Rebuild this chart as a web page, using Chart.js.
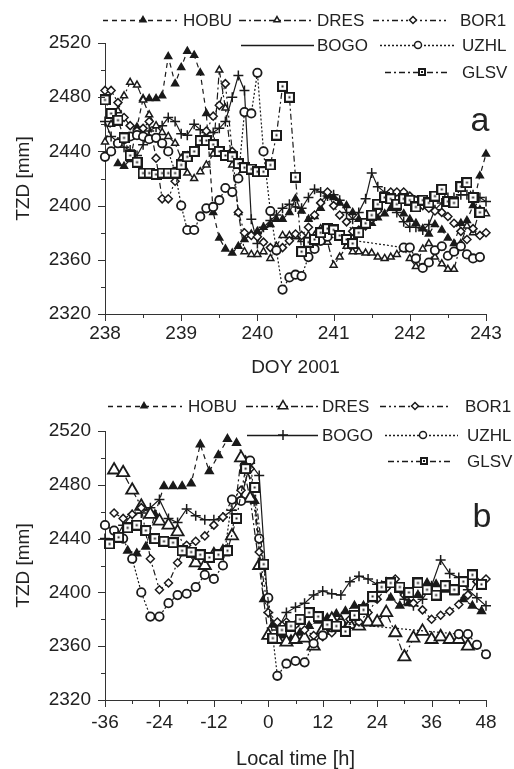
<!DOCTYPE html>
<html>
<head>
<meta charset="utf-8">
<script src="https://cdn.jsdelivr.net/npm/chart.js@4.4.1/dist/chart.umd.min.js"></script>
<style>
    html, body { margin: 0; padding: 0; background: #fff; }
    canvas { display: block; }
</style>
</head>
<body>
<canvas id="chart-a" width="514" height="384"></canvas>
<canvas id="chart-b" width="514" height="385"></canvas>
<script>
// ---- data ----
const doyTicks = [238, 239, 240, 241, 242, 243];
const doyMinorTicks = [238.5, 239.5, 240.5, 241.5, 242.5];
const hourTicks = [-36, -24, -12, 0, 12, 24, 36, 48];
const hourMinorTicks = [-30, -18, -6, 6, 18, 30, 42];
const tzdTicks = [2320, 2360, 2400, 2440, 2480, 2520];
const tzdMinorTicks = [2340, 2380, 2420, 2460, 2500];

// panel a: 2-hourly samples on DOY 238..243
const doyGrid = [238.00, 238.08, 238.17, 238.25, 238.33, 238.42, 238.50, 238.58, 238.67, 238.75,
    238.83, 238.92, 239.00, 239.08, 239.17, 239.25, 239.33, 239.42, 239.50, 239.58,
    239.67, 239.75, 239.83, 239.92, 240.00, 240.08, 240.17, 240.25, 240.33, 240.42,
    240.50, 240.58, 240.67, 240.75, 240.83, 240.92, 241.00, 241.08, 241.17, 241.25,
    241.33, 241.42, 241.50, 241.58, 241.67, 241.75, 241.83, 241.92, 242.00, 242.08,
    242.17, 242.25, 242.33, 242.42, 242.50, 242.58, 242.67, 242.75, 242.83, 242.92, 243.00];

const hobuA = [null, null, 2431, 2429, 2434, 2458, 2479, 2479, 2479, 2481,
    2510, 2490, 2502, 2514, 2511, 2498, 2468, 2395, 2376, 2368,
    2365, 2370, 2375, 2379, 2381, 2384, 2386, 2390, 2390, 2395,
    2405, 2396, 2390, 2392, 2398, 2407, 2406, 2402, 2400, 2395,
    2390, 2386, 2387, 2391, 2394, 2398, 2398, 2394, 2390, 2387,
    2383, 2379, 2386, 2382, 2376, 2372, 2387, 2389, 2400, 2422, 2438];
const dresA = [2447, 2460, 2470, 2481, 2491, 2489, 2478, 2467, 2459, 2454,
    2451, 2446, 2435, 2424, 2420, 2425, 2430, 2438, 2500, 2472,
    2430, 2395, 2366, 2364, 2364, 2366, 2361, 2370, 2378, 2378,
    2377, 2375, 2378, 2378, 2383, 2373, 2356, 2362, 2370, 2366,
    2366, 2365, 2365, 2362, 2361, 2362, 2364, 2368, 2361, 2355,
    2368, 2372, 2362, 2357, 2353, 2353, 2372, 2385, 2380, 2397, 2394];
const bor1A = [2485, 2485, 2476, 2465, 2459, 2455, 2457, 2462, 2435, 2405,
    2405, 2418, 2430, 2437, 2440, 2448, 2455, 2466, 2474, 2490,
    2440, 2395, 2380, 2378, 2377, 2373, 2369, 2367, 2369, 2374,
    2379, 2378, 2384, 2393, 2402, 2410, 2400, 2393, 2388, 2381,
    2382, 2385, 2390, 2396, 2406, 2410, 2410, 2410, 2407, 2404,
    2400, 2398, 2396, 2395, 2392, 2387, 2381, 2375, 2383, 2378, 2380];
const bogoA = [2462, 2451, 2447, 2443, 2441, 2437, 2445, 2455, 2458, 2459,
    2465, 2462, 2453, 2452, 2460, 2456, 2454, 2454, 2457, 2462,
    2480, 2496, 2485, 2390, 2372, 2384, 2389, 2393, 2398, 2401,
    2399, 2398, 2406, 2412, 2410, 2407, 2408, 2404, 2395, 2390,
    2395, 2405, 2424, 2414, 2410, 2402, 2395, 2388, 2384, 2384,
    2382, 2386, 2397, 2402, 2406, 2406, 2408, 2408, 2408, 2406, 2403];
const uzhlA = [2436, 2440, 2446, 2449, 2451, 2452, 2451, 2449, 2450, 2446,
    2440, 2425, 2400, 2382, 2382, 2392, 2398, 2399, 2404, 2413,
    2410, 2420, 2469, 2468, 2498, 2440, 2396, 2367, 2338, 2347,
    2349, 2348, 2362, 2368, 2374, 2377, null, null, null, null,
    null, null, null, null, null, null, null, 2369, 2369, 2361,
    2354, 2358, 2367, 2370, 2363, 2366, 2370, 2364, 2361, 2362, null];
const glsvA = [2478, 2468, 2463, 2450, 2437, 2432, 2424, 2424, 2423, 2424,
    2424, 2424, 2430, 2436, 2440, 2448, 2448, 2445, 2440, 2437,
    2436, 2431, 2428, 2427, 2425, 2425, 2430, 2452, 2488, 2480,
    2421, 2366, 2373, 2375, 2380, 2383, 2382, 2378, 2375, 2372,
    2380, 2387, 2393, 2401, 2406, 2405, 2401, 2405, 2404, 2399,
    2404, 2402, 2407, 2412, 2403, 2402, 2414, 2417, 2406, 2395, null];

// panel b: [local time h, TZD mm]
const hobuB = [[-31, 2431], [-29, 2429], [-27, 2434], [-25, 2458], [-23, 2479], [-21, 2479], [-19, 2479],
    [-17, 2481], [-15, 2510], [-13, 2490], [-11, 2502], [-9, 2514], [-7, 2511], [-5, 2498], [-3, 2468],
    [-1, 2395], [1, 2376], [3, 2368], [5, 2365], [7, 2370], [9, 2375], [11, 2379], [13, 2381], [15, 2384],
    [17, 2386], [19, 2390], [21, 2390], [23, 2395], [25, 2405], [27, 2396], [29, 2390], [31, 2392],
    [33, 2398], [35, 2407], [37, 2406], [39, 2402], [41, 2400], [43, 2395], [45, 2390], [47, 2386]];
const dresB = [[-34, 2491], [-32, 2489], [-30, 2476], [-28, 2464], [-26, 2458], [-24, 2453], [-22, 2450],
    [-20, 2445], [-18, 2430], [-16, 2422], [-14, 2420], [-12, 2428], [-10, 2430], [-8, 2442], [-6, 2500],
    [-4, 2470], [-2, 2420], [0, 2368], [2, 2365], [4, 2363], [6, 2365], [8, 2366], [10, 2360], [12, 2372],
    [14, 2380], [16, 2378], [18, 2376], [20, 2375], [22, 2378], [24, 2378], [26, 2385], [28, 2370],
    [30, 2352], [32, 2366], [34, 2371], [36, 2365], [38, 2367], [40, 2365], [42, 2365], [44, 2360]];
const bor1B = [[-34, 2459], [-32, 2455], [-30, 2458], [-28, 2463], [-26, 2425], [-24, 2402], [-22, 2407],
    [-20, 2422], [-18, 2435], [-16, 2438], [-14, 2442], [-12, 2450], [-10, 2456], [-8, 2469], [-6, 2476],
    [-4, 2492], [-2, 2430], [0, 2385], [2, 2378], [4, 2378], [6, 2376], [8, 2372], [10, 2368], [12, 2367],
    [14, 2370], [16, 2375], [18, 2380], [20, 2378], [22, 2385], [24, 2395], [26, 2403], [28, 2410],
    [30, 2398], [32, 2392], [34, 2387], [36, 2380], [38, 2383], [40, 2386], [42, 2391], [44, 2398],
    [46, 2408], [48, 2410]];
const bogoB = [[-36, 2440], [-34, 2438], [-32, 2450], [-30, 2458], [-28, 2459], [-26, 2463], [-24, 2469],
    [-22, 2455], [-20, 2452], [-18, 2462], [-16, 2457], [-14, 2454], [-12, 2454], [-10, 2456], [-8, 2461],
    [-6, 2470], [-4, 2496], [-2, 2487], [0, 2385], [2, 2372], [4, 2385], [6, 2389], [8, 2392], [10, 2398],
    [12, 2401], [14, 2399], [16, 2398], [18, 2408], [20, 2412], [22, 2410], [24, 2406], [26, 2408],
    [28, 2404], [30, 2395], [32, 2390], [34, 2395], [36, 2405], [38, 2424], [40, 2414], [42, 2411],
    [44, 2402], [46, 2396], [48, 2390]];
const uzhlB = [[-36, 2450], [-34, 2446], [-32, 2440], [-30, 2425], [-28, 2400], [-26, 2382], [-24, 2382],
    [-22, 2392], [-20, 2398], [-18, 2399], [-16, 2404], [-14, 2413], [-12, 2410], [-10, 2420], [-8, 2469],
    [-6, 2468], [-4, 2498], [-2, 2440], [0, 2396], [2, 2338], [4, 2347], [6, 2349], [8, 2348], [10, 2362],
    [12, 2368], [14, 2374], [16, 2377], [42, 2369], [44, 2369], [46, 2361], [48, 2354]];
const glsvB = [[-35, 2436], [-33, 2441], [-31, 2448], [-29, 2450], [-27, 2446], [-25, 2440], [-23, 2438],
    [-21, 2437], [-19, 2431], [-17, 2430], [-15, 2428], [-13, 2426], [-11, 2428], [-9, 2431], [-7, 2455],
    [-5, 2492], [-3, 2478], [-1, 2421], [1, 2366], [3, 2372], [5, 2375], [7, 2380], [9, 2385], [11, 2382],
    [13, 2376], [15, 2375], [17, 2371], [19, 2383], [21, 2387], [23, 2397], [25, 2404], [27, 2407],
    [29, 2404], [31, 2400], [33, 2407], [35, 2402], [37, 2398], [39, 2405], [41, 2402], [43, 2408],
    [45, 2413], [47, 2406]];

// ---- styling ----
const INK = '#1a1a1a';
const FONT = "'Liberation Sans', Arial, sans-serif";
Chart.defaults.font.family = FONT;
Chart.defaults.color = '#222';

// small canvas marker: box with a dot in the middle
function boxMarker(size, lw) {
    const c = document.createElement('canvas');
    c.width = c.height = size;
    const g = c.getContext('2d');
    g.lineWidth = lw;
    g.strokeStyle = INK;
    g.fillStyle = '#fff';
    g.fillRect(0, 0, size, size);
    g.strokeRect(lw / 2, lw / 2, size - lw, size - lw);
    g.fillStyle = INK;
    g.fillRect(size / 2 - 1, size / 2 - 1, 2, 2);
    return c;
}

const stationStyle = {
    HOBU: { dash: [5, 4], point: 'triangle', fill: INK, r: { a: 4, b: 4.5, leg: 3.5 } },
    DRES: { dash: [7, 3, 2, 3], point: 'triangle', fill: '#fff', r: { a: 4, b: 7, leg: 4 } },
    BOR1: { dash: [6, 3, 2, 3, 2, 3], point: 'rectRot', fill: '#fff', r: { a: 4, b: 4, leg: 3.5 } },
    BOGO: { dash: [], point: 'cross', fill: INK, r: { a: 5, b: 5, leg: 5 } },
    UZHL: { dash: [2, 2], point: 'circle', fill: '#fff', r: { a: 4.2, b: 4.2, leg: 3.5 } },
    GLSV: { dash: [6, 3, 2, 3], point: boxMarker(11, 2), legPoint: boxMarker(8, 2), fill: '#fff', r: { a: 5, b: 5, leg: 4 } }
};

function gridPoints(values) {
    return doyGrid.map((d, i) => ({ x: d, y: values[i] })).filter(p => p.y !== null);
}
function pairPoints(pairs) {
    return pairs.map(p => ({ x: p[0], y: p[1] }));
}

function makeDataset(name, points, panel) {
    const st = stationStyle[name];
    return {
        label: name,
        data: points,
        borderColor: INK,
        borderWidth: 1.2,
        borderDash: st.dash,
        pointStyle: st.point,
        pointRadius: st.r[panel],
        pointBorderWidth: (panel === 'b' && name === 'DRES') || name === 'UZHL' ? 1.8 : 1.5,
        pointBackgroundColor: st.fill,
        pointBorderColor: INK,
        tension: 0,
        spanGaps: true,
        clip: false
    };
}

// tick marks drawn on the library scales (major + minor)
const TickMarks = {
    id: 'tickMarks',
    afterDraw(chart, _args, opts) {
        const { ctx, chartArea } = chart;
        const xs = chart.scales.x;
        const ys = chart.scales.y;
        ctx.save();
        ctx.strokeStyle = '#333';
        ctx.lineWidth = 1;
        ctx.beginPath();
        opts.xMajor.forEach(v => {
            const px = Math.round(xs.getPixelForValue(v)) + 0.5;
            ctx.moveTo(px, chartArea.bottom);
            ctx.lineTo(px, chartArea.bottom + 7);
        });
        opts.xMinor.forEach(v => {
            const px = Math.round(xs.getPixelForValue(v)) + 0.5;
            ctx.moveTo(px, chartArea.bottom);
            ctx.lineTo(px, chartArea.bottom + 4);
        });
        opts.yMajor.forEach(v => {
            const py = Math.round(ys.getPixelForValue(v)) + 0.5;
            ctx.moveTo(chartArea.left, py);
            ctx.lineTo(chartArea.left - 7, py);
        });
        opts.yMinor.forEach(v => {
            const py = Math.round(ys.getPixelForValue(v)) + 0.5;
            ctx.moveTo(chartArea.left, py);
            ctx.lineTo(chartArea.left - 4, py);
        });
        ctx.stroke();
        ctx.restore();
    }
};

// legend laid out like the original (three columns, staggered rows)
const LineLegend = {
    id: 'lineLegend',
    afterDraw(chart, _args, opts) {
        const ctx = chart.ctx;
        ctx.save();
        opts.items.forEach(item => {
            const st = stationStyle[item.name];
            ctx.strokeStyle = INK;
            ctx.lineWidth = 1.3;
            ctx.setLineDash(st.dash);
            ctx.beginPath();
            ctx.moveTo(item.x0, item.y + 0.5);
            ctx.lineTo(item.x1, item.y + 0.5);
            ctx.stroke();
            ctx.setLineDash([]);
            if (item.marker) {
                ctx.fillStyle = st.fill;
                ctx.strokeStyle = INK;
                ctx.lineWidth = 1.5;
                Chart.helpers.drawPoint(ctx, {
                    pointStyle: st.legPoint || st.point,
                    radius: item.r || st.r.leg,
                    borderWidth: 1.5,
                    rotation: 0
                }, item.mx, item.y);
            }
            ctx.fillStyle = '#222';
            ctx.font = '17px ' + FONT;
            ctx.textBaseline = 'middle';
            ctx.textAlign = 'left';
            ctx.fillText(item.name, item.tx, item.y + 1);
        });
        ctx.font = '34px ' + FONT;
        ctx.fillStyle = '#222';
        ctx.textAlign = 'center';
        ctx.textBaseline = 'alphabetic';
        ctx.fillText(opts.letter.text, opts.letter.x, opts.letter.y);
        ctx.restore();
    }
};

function buildChart(canvasId, cfg) {
    const labelFont = { size: 19 };
    return new Chart(document.getElementById(canvasId), {
        type: 'line',
        data: { datasets: cfg.datasets },
        options: {
            responsive: false,
            animation: false,
            devicePixelRatio: 1,
            layout: { padding: { top: cfg.padTop, right: 28, left: 0, bottom: 0 } },
            plugins: {
                legend: { display: false },
                tooltip: { enabled: false },
                tickMarks: cfg.ticks,
                lineLegend: cfg.legend
            },
            scales: {
                x: {
                    type: 'linear',
                    min: cfg.xMin,
                    max: cfg.xMax,
                    afterBuildTicks: s => { s.ticks = cfg.xTicks.map(v => ({ value: v })); },
                    afterFit: s => { s.height = cfg.xHeight; },
                    grid: { display: true, drawOnChartArea: false, drawTicks: false },
                    border: { display: true, color: '#333', width: 1 },
                    ticks: {
                        font: labelFont, color: '#222', padding: cfg.xPad,
                        maxRotation: 0, autoSkip: false,
                        callback: v => String(v)
                    },
                    title: {
                        display: true, text: cfg.xTitle, color: '#222',
                        font: { size: cfg.xTitleSize }, padding: { top: 0, bottom: cfg.xTitlePad }
                    }
                },
                y: {
                    type: 'linear',
                    min: 2320,
                    max: 2520,
                    afterBuildTicks: s => { s.ticks = tzdTicks.map(v => ({ value: v })); },
                    afterFit: s => { s.width = 105; },
                    grid: { display: true, drawOnChartArea: false, drawTicks: false },
                    border: { display: true, color: '#333', width: 1 },
                    ticks: { font: labelFont, color: '#222', padding: 14, callback: v => String(v) },
                    title: {
                        display: true, text: 'TZD [mm]', color: '#222',
                        font: { size: 19 }, padding: { top: 12, bottom: 0 }
                    }
                }
            }
        },
        plugins: [TickMarks, LineLegend]
    });
}

// panel a
buildChart('chart-a', {
    datasets: [
        makeDataset('GLSV', gridPoints(glsvA), 'a'),
        makeDataset('UZHL', gridPoints(uzhlA), 'a'),
        makeDataset('BOR1', gridPoints(bor1A), 'a'),
        makeDataset('DRES', gridPoints(dresA), 'a'),
        makeDataset('BOGO', gridPoints(bogoA), 'a'),
        makeDataset('HOBU', gridPoints(hobuA), 'a')
    ],
    padTop: 43,
    xMin: 238, xMax: 243, xTicks: doyTicks,
    xHeight: 70, xPad: 8, xTitle: 'DOY 2001', xTitleSize: 19, xTitlePad: 5,
    ticks: { xMajor: doyTicks, xMinor: doyMinorTicks, yMajor: tzdTicks, yMinor: tzdMinorTicks },
    legend: {
        items: [
            { name: 'HOBU', y: 20, x0: 103, x1: 177, mx: 143, tx: 183, marker: true },
            { name: 'DRES', y: 20, x0: 239, x1: 314, mx: 277, tx: 317, marker: true, r: 3.5 },
            { name: 'BOR1', y: 20, x0: 373, x1: 447, mx: 413, tx: 460, marker: true },
            { name: 'BOGO', y: 45, x0: 241, x1: 314, mx: 0, tx: 317, marker: false },
            { name: 'UZHL', y: 45, x0: 380, x1: 456, mx: 418, tx: 462, marker: true },
            { name: 'GLSV', y: 72, x0: 385, x1: 450, mx: 422, tx: 462, marker: true }
        ],
        letter: { text: 'a', x: 480, y: 131 }
    }
});

// panel b
buildChart('chart-b', {
    datasets: [
        makeDataset('GLSV', pairPoints(glsvB), 'b'),
        makeDataset('UZHL', pairPoints(uzhlB), 'b'),
        makeDataset('BOR1', pairPoints(bor1B), 'b'),
        makeDataset('DRES', pairPoints(dresB), 'b'),
        makeDataset('BOGO', pairPoints(bogoB), 'b'),
        makeDataset('HOBU', pairPoints(hobuB), 'b')
    ],
    padTop: 47,
    xMin: -36, xMax: 48, xTicks: hourTicks,
    xHeight: 69, xPad: 11, xTitle: 'Local time [h]', xTitleSize: 20, xTitlePad: -2,
    ticks: { xMajor: hourTicks, xMinor: hourMinorTicks, yMajor: tzdTicks, yMinor: tzdMinorTicks },
    legend: {
        items: [
            { name: 'HOBU', y: 22, x0: 108, x1: 182, mx: 144, tx: 188, marker: true },
            { name: 'DRES', y: 22, x0: 246, x1: 318, mx: 283, tx: 322, marker: true, r: 5.5 },
            { name: 'BOR1', y: 22, x0: 380, x1: 448, mx: 415, tx: 465, marker: true },
            { name: 'BOGO', y: 51, x0: 247, x1: 318, mx: 283, tx: 322, marker: true },
            { name: 'UZHL', y: 51, x0: 385, x1: 458, mx: 423, tx: 467, marker: true },
            { name: 'GLSV', y: 77, x0: 388, x1: 450, mx: 424, tx: 467, marker: true }
        ],
        letter: { text: 'b', x: 482, y: 143 }
    }
});
</script>
</body>
</html>
